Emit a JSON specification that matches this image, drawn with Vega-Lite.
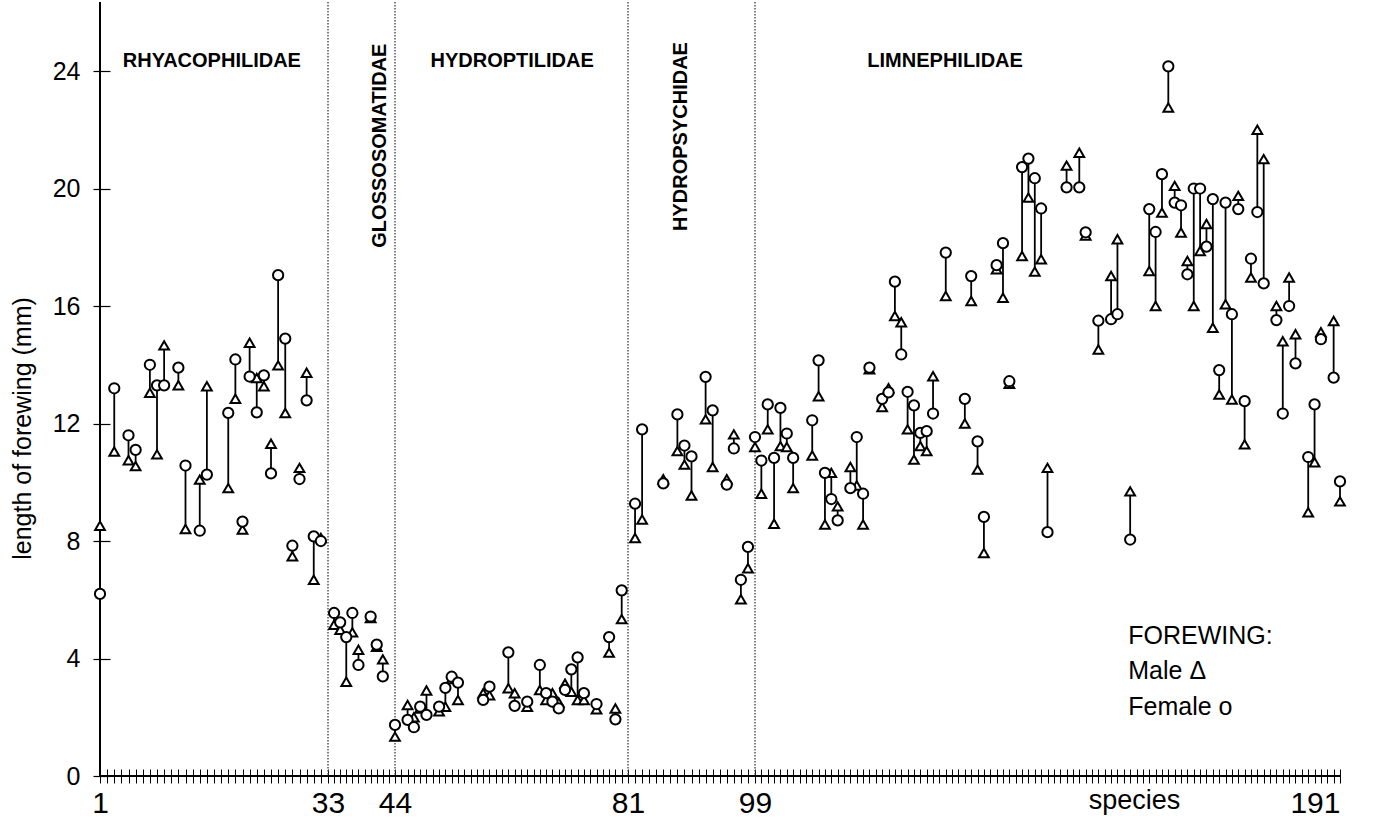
{
  "$schema": "https://vega.github.io/schema/vega-lite/v6.json",
  "width": 1240,
  "height": 774,
  "autosize": "none",
  "padding": {"left": 100, "top": 2, "right": 35, "bottom": 50},
  "background": "white",
  "config": {"view": {"stroke": null}, "font": "Liberation Sans"},
  "datasets": {
    "wings": [
      {"species": 1, "male": 8.52, "female": 6.2},
      {"species": 3, "male": 11.05, "female": 13.2},
      {"species": 5, "male": 10.75, "female": 11.6},
      {"species": 6, "male": 10.55, "female": 11.1},
      {"species": 8, "male": 13.05, "female": 14.0},
      {"species": 9, "male": 10.95, "female": 13.3},
      {"species": 10, "male": 14.66, "female": 13.3},
      {"species": 12, "male": 13.3, "female": 13.9},
      {"species": 13, "male": 8.41, "female": 10.57},
      {"species": 15, "male": 10.09, "female": 8.35},
      {"species": 16, "male": 13.27, "female": 10.26},
      {"species": 19, "male": 9.8, "female": 12.36},
      {"species": 20, "male": 12.84, "female": 14.18},
      {"species": 21, "male": 8.39, "female": 8.66},
      {"species": 22, "male": 14.75, "female": 13.6},
      {"species": 23, "male": 13.55, "female": 12.38},
      {"species": 24, "male": 13.27, "female": 13.64},
      {"species": 25, "male": 11.31, "female": 10.3},
      {"species": 26, "male": 13.98, "female": 17.05},
      {"species": 27, "male": 12.36, "female": 14.89},
      {"species": 28, "male": 7.48, "female": 7.84},
      {"species": 29, "male": 10.49, "female": 10.11},
      {"species": 30, "male": 13.73, "female": 12.79},
      {"species": 31, "male": 6.68, "female": 8.16},
      {"species": 32, "male": 8.1, "female": 8.0},
      {"species": 34, "male": 5.15, "female": 5.55},
      {"species": 35, "male": 4.98, "female": 5.23},
      {"species": 36, "male": 3.21, "female": 4.73},
      {"species": 37, "male": 4.89, "female": 5.55},
      {"species": 38, "male": 4.3, "female": 3.78},
      {"species": 40, "male": 5.38, "female": 5.43},
      {"species": 41, "male": 4.4, "female": 4.47},
      {"species": 42, "male": 3.97, "female": 3.39},
      {"species": 44, "male": 1.34, "female": 1.74},
      {"species": 46, "male": 2.42, "female": 1.91},
      {"species": 47, "male": 2.0, "female": 1.66},
      {"species": 48, "male": 2.3, "female": 2.36},
      {"species": 49, "male": 2.91, "female": 2.08},
      {"species": 51, "male": 2.2, "female": 2.36},
      {"species": 52, "male": 2.36, "female": 3.0},
      {"species": 53, "male": 3.3, "female": 3.38},
      {"species": 54, "male": 2.59, "female": 3.18},
      {"species": 58, "male": 2.82, "female": 2.59},
      {"species": 59, "male": 2.75, "female": 3.04},
      {"species": 62, "male": 2.99, "female": 4.21},
      {"species": 63, "male": 2.82, "female": 2.39},
      {"species": 65, "male": 2.36, "female": 2.53},
      {"species": 67, "male": 2.93, "female": 3.78},
      {"species": 68, "male": 2.59, "female": 2.82},
      {"species": 69, "male": 2.82, "female": 2.53},
      {"species": 70, "male": 2.5, "female": 2.3},
      {"species": 71, "male": 3.14, "female": 2.93},
      {"species": 72, "male": 2.87, "female": 3.63},
      {"species": 73, "male": 2.59, "female": 4.04},
      {"species": 74, "male": 2.59, "female": 2.82},
      {"species": 76, "male": 2.27, "female": 2.45},
      {"species": 78, "male": 4.2, "female": 4.73},
      {"species": 79, "male": 2.3, "female": 1.93},
      {"species": 80, "male": 5.34, "female": 6.32},
      {"species": 82, "male": 8.1, "female": 9.27},
      {"species": 83, "male": 8.73, "female": 11.8},
      {"species": 86, "male": 10.1, "female": 9.96},
      {"species": 88, "male": 11.06, "female": 12.31},
      {"species": 89, "male": 10.6, "female": 11.25},
      {"species": 90, "male": 9.55, "female": 10.88},
      {"species": 92, "male": 12.14, "female": 13.59},
      {"species": 93, "male": 10.52, "female": 12.45},
      {"species": 95, "male": 10.1, "female": 9.92},
      {"species": 96, "male": 11.63, "female": 11.15},
      {"species": 97, "male": 6.02, "female": 6.68},
      {"species": 98, "male": 7.07, "female": 7.8},
      {"species": 99, "male": 11.2, "female": 11.54},
      {"species": 100, "male": 9.61, "female": 10.74},
      {"species": 101, "male": 11.8, "female": 12.65},
      {"species": 102, "male": 8.59, "female": 10.83},
      {"species": 103, "male": 11.23, "female": 12.53},
      {"species": 104, "male": 11.2, "female": 11.66},
      {"species": 105, "male": 9.8, "female": 10.83},
      {"species": 108, "male": 10.91, "female": 12.11},
      {"species": 109, "male": 12.93, "female": 14.15},
      {"species": 110, "male": 8.56, "female": 10.32},
      {"species": 111, "male": 10.32, "female": 9.43},
      {"species": 112, "male": 9.18, "female": 8.7},
      {"species": 114, "male": 10.52, "female": 9.8},
      {"species": 115, "male": 9.89, "female": 11.54},
      {"species": 116, "male": 8.56, "female": 9.61},
      {"species": 117, "male": 13.85, "female": 13.9},
      {"species": 119, "male": 12.56, "female": 12.84},
      {"species": 120, "male": 13.2, "female": 13.06},
      {"species": 121, "male": 15.66, "female": 16.83},
      {"species": 122, "male": 15.45, "female": 14.35},
      {"species": 123, "male": 11.8, "female": 13.08},
      {"species": 124, "male": 10.77, "female": 12.62},
      {"species": 125, "male": 11.23, "female": 11.68},
      {"species": 126, "male": 11.06, "female": 11.74},
      {"species": 127, "male": 13.61, "female": 12.34},
      {"species": 129, "male": 16.34, "female": 17.82},
      {"species": 132, "male": 12.0, "female": 12.84},
      {"species": 133, "male": 16.17, "female": 17.02},
      {"species": 134, "male": 10.43, "female": 11.39},
      {"species": 135, "male": 7.59, "female": 8.82},
      {"species": 137, "male": 17.25, "female": 17.39},
      {"species": 138, "male": 16.28, "female": 18.14},
      {"species": 139, "male": 13.35, "female": 13.44},
      {"species": 141, "male": 17.7, "female": 20.73},
      {"species": 142, "male": 19.69, "female": 21.02},
      {"species": 143, "male": 17.17, "female": 20.35},
      {"species": 144, "male": 17.59, "female": 19.32},
      {"species": 145, "male": 10.49, "female": 8.3},
      {"species": 148, "male": 20.78, "female": 20.04},
      {"species": 150, "male": 21.22, "female": 20.04},
      {"species": 151, "male": 18.4, "female": 18.51},
      {"species": 153, "male": 14.52, "female": 15.5},
      {"species": 155, "male": 17.02, "female": 15.55},
      {"species": 156, "male": 18.27, "female": 15.72},
      {"species": 158, "male": 9.69, "female": 8.05},
      {"species": 161, "male": 17.19, "female": 19.3},
      {"species": 162, "male": 16.0, "female": 18.52},
      {"species": 163, "male": 19.18, "female": 20.49},
      {"species": 164, "male": 22.76, "female": 24.16},
      {"species": 165, "male": 20.09, "female": 19.52},
      {"species": 166, "male": 18.5, "female": 19.43},
      {"species": 167, "male": 17.53, "female": 17.08},
      {"species": 168, "male": 16.0, "female": 20.0},
      {"species": 169, "male": 17.87, "female": 20.0},
      {"species": 170, "male": 18.79, "female": 18.02},
      {"species": 171, "male": 15.26, "female": 19.64},
      {"species": 172, "male": 12.99, "female": 13.82},
      {"species": 173, "male": 16.06, "female": 19.52},
      {"species": 174, "male": 12.82, "female": 15.72},
      {"species": 175, "male": 19.75, "female": 19.3},
      {"species": 176, "male": 11.29, "female": 12.76},
      {"species": 177, "male": 16.97, "female": 17.61},
      {"species": 178, "male": 22.0, "female": 19.2},
      {"species": 179, "male": 21.0, "female": 16.77},
      {"species": 181, "male": 16.0, "female": 15.52},
      {"species": 182, "male": 14.8, "female": 12.34},
      {"species": 183, "male": 16.97, "female": 16.0},
      {"species": 184, "male": 15.04, "female": 14.05},
      {"species": 186, "male": 8.98, "female": 10.86},
      {"species": 187, "male": 10.68, "female": 12.65},
      {"species": 188, "male": 15.11, "female": 14.87},
      {"species": 190, "male": 15.49, "female": 13.56},
      {"species": 191, "male": 9.35, "female": 10.03}
    ],
    "dividers": [
      {"species": 33}, {"species": 44}, {"species": 81}, {"species": 99}
    ],
    "one": [{}]
  },
  "layer": [
    {
      "data": {"name": "dividers"},
      "mark": {"type": "rule", "color": "#555", "strokeWidth": 1.5, "strokeDash": [1.5, 1.5]},
      "encoding": {
        "x": {
          "field": "species", "type": "quantitative",
          "scale": {"domain": [1, 33, 44, 81, 99, 191], "range": [0, 228, 295, 528, 655, 1240], "nice": false, "zero": false},
          "axis": {
            "title": "species",
            "titleFont": "Liberation Sans",
            "titleFontSize": 27,
            "titleFontWeight": "normal",
            "titleColor": "black",
            "titleX": 1034,
            "titleY": 39,
            "titleAlign": "center",
            "titleBaseline": "alphabetic",
            "tickCount": 400,
            "values": [1,2,3,4,5,6,7,8,9,10,11,12,13,14,15,16,17,18,19,20,21,22,23,24,25,26,27,28,29,30,31,32,33,34,35,36,37,38,39,40,41,42,43,44,45,46,47,48,49,50,51,52,53,54,55,56,57,58,59,60,61,62,63,64,65,66,67,68,69,70,71,72,73,74,75,76,77,78,79,80,81,82,83,84,85,86,87,88,89,90,91,92,93,94,95,96,97,98,99,100,101,102,103,104,105,106,107,108,109,110,111,112,113,114,115,116,117,118,119,120,121,122,123,124,125,126,127,128,129,130,131,132,133,134,135,136,137,138,139,140,141,142,143,144,145,146,147,148,149,150,151,152,153,154,155,156,157,158,159,160,161,162,163,164,165,166,167,168,169,170,171,172,173,174,175,176,177,178,179,180,181,182,183,184,185,186,187,188,189,190,191],
            "format": "d",
            "labelExpr": "indexof([1,33,44,81,99,191], datum.value) >= 0 ? datum.label : ''",
            "labelOverlap": false,
            "labelFlush": false,
            "labelBound": false,
            "labelFont": "Liberation Sans",
            "labelFontSize": 30,
            "labelColor": "black",
            "labelAlign": {"condition": {"test": "datum.value === 191", "value": "right"}, "value": "center"},
            "labelPadding": 5,
            "domain": false,
            "offset": -7,
            "tickSize": 14,
            "tickColor": "black",
            "tickWidth": 1,
            "grid": false
          }
        }
      }
    },
    {
      "data": {"name": "one"},
      "mark": {"type": "rule", "color": "black", "strokeWidth": 2},
      "encoding": {"x": {"datum": 1, "type": "quantitative"}}
    },
    {
      "data": {"name": "one"},
      "mark": {"type": "rule", "color": "black", "strokeWidth": 2},
      "encoding": {"y": {"datum": 0, "type": "quantitative"}}
    },
    {
      "data": {"name": "wings"},
      "mark": {"type": "rule", "color": "black", "strokeWidth": 1.8},
      "encoding": {
        "x": {"field": "species", "type": "quantitative"},
        "y": {
          "field": "male", "type": "quantitative",
          "scale": {"domain": [0, 26.35], "nice": false, "zero": true},
          "axis": {
            "title": "length of forewing (mm)",
            "titleFont": "Liberation Sans",
            "titleFontSize": 25,
            "titleFontWeight": "normal",
            "titleColor": "black",
            "titleAngle": -90,
            "titleX": -88,
            "titleY": 426,
            "titleAlign": "center",
            "titleBaseline": "middle",
            "tickCount": 20,
            "values": [0, 4, 8, 12, 16, 20, 24],
            "labelFont": "Liberation Sans",
            "labelFontSize": 25,
            "labelColor": "black",
            "labelPadding": 13,
            "labelBaseline": "middle",
            "domain": false,
            "offset": -10,
            "tickSize": 17,
            "tickColor": "black",
            "tickWidth": 1.2,
            "grid": false
          }
        },
        "y2": {"field": "female"}
      }
    },
    {
      "data": {"name": "wings"},
      "mark": {"type": "point", "shape": "triangle-up", "filled": true, "fill": "white", "stroke": "black", "strokeWidth": 2, "size": 95, "opacity": 1},
      "encoding": {
        "x": {"field": "species", "type": "quantitative"},
        "y": {"field": "male", "type": "quantitative"}
      }
    },
    {
      "data": {"name": "wings"},
      "mark": {"type": "point", "shape": "circle", "filled": true, "fill": "white", "stroke": "black", "strokeWidth": 2, "size": 105, "opacity": 1},
      "encoding": {
        "x": {"field": "species", "type": "quantitative"},
        "y": {"field": "female", "type": "quantitative"}
      }
    },
    {
      "data": {"name": "one"},
      "mark": {"type": "text", "font": "Liberation Sans", "fontWeight": "bold", "fontSize": 20, "align": "center", "baseline": "middle", "color": "black"},
      "encoding": {"x": {"datum": 16.7, "type": "quantitative"}, "y": {"datum": 24.35, "type": "quantitative"}, "text": {"value": "RHYACOPHILIDAE"}}
    },
    {
      "data": {"name": "one"},
      "mark": {"type": "text", "font": "Liberation Sans", "fontWeight": "bold", "fontSize": 20, "align": "center", "baseline": "middle", "color": "black", "angle": 270},
      "encoding": {"x": {"datum": 41.5, "type": "quantitative"}, "y": {"datum": 21.46, "type": "quantitative"}, "text": {"value": "GLOSSOSOMATIDAE"}}
    },
    {
      "data": {"name": "one"},
      "mark": {"type": "text", "font": "Liberation Sans", "fontWeight": "bold", "fontSize": 20, "align": "center", "baseline": "middle", "color": "black"},
      "encoding": {"x": {"datum": 62.6, "type": "quantitative"}, "y": {"datum": 24.35, "type": "quantitative"}, "text": {"value": "HYDROPTILIDAE"}}
    },
    {
      "data": {"name": "one"},
      "mark": {"type": "text", "font": "Liberation Sans", "fontWeight": "bold", "fontSize": 20, "align": "center", "baseline": "middle", "color": "black", "angle": 270},
      "encoding": {"x": {"datum": 88.5, "type": "quantitative"}, "y": {"datum": 21.77, "type": "quantitative"}, "text": {"value": "HYDROPSYCHIDAE"}}
    },
    {
      "data": {"name": "one"},
      "mark": {"type": "text", "font": "Liberation Sans", "fontWeight": "bold", "fontSize": 20, "align": "center", "baseline": "middle", "color": "black"},
      "encoding": {"x": {"datum": 128.9, "type": "quantitative"}, "y": {"datum": 24.35, "type": "quantitative"}, "text": {"value": "LIMNEPHILIDAE"}}
    },
    {
      "data": {"name": "one"},
      "mark": {"type": "text", "font": "Liberation Sans", "fontSize": 25, "align": "left", "baseline": "alphabetic", "color": "black"},
      "encoding": {"x": {"datum": 157.7, "type": "quantitative"}, "y": {"datum": 4.49, "type": "quantitative"}, "text": {"value": "FOREWING:"}}
    },
    {
      "data": {"name": "one"},
      "mark": {"type": "text", "font": "Liberation Sans", "fontSize": 25, "align": "left", "baseline": "alphabetic", "color": "black"},
      "encoding": {"x": {"datum": 157.7, "type": "quantitative"}, "y": {"datum": 3.3, "type": "quantitative"}, "text": {"value": "Male Δ"}}
    },
    {
      "data": {"name": "one"},
      "mark": {"type": "text", "font": "Liberation Sans", "fontSize": 25, "align": "left", "baseline": "alphabetic", "color": "black"},
      "encoding": {"x": {"datum": 157.7, "type": "quantitative"}, "y": {"datum": 2.07, "type": "quantitative"}, "text": {"value": "Female o"}}
    }
  ]
}
